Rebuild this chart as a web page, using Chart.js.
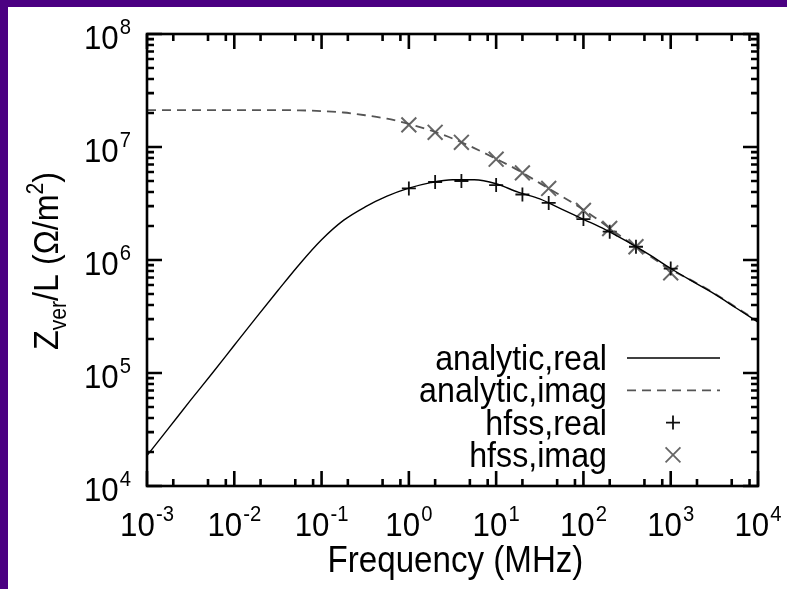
<!DOCTYPE html>
<html lang="en">
<head>
<meta charset="UTF-8">
<title>Zver/L vs frequency</title>
<script src="https://cdn.jsdelivr.net/npm/chart.js"></script>
<style>
  body { margin: 0; background: #fff; }
  #frame { width: 787px; height: 589px; box-sizing: border-box; border-left: 8px solid #4b0082; border-top: 7px solid #4b0082; }
  canvas { display: block; }
</style>
</head>
<body>
<div id="frame"><canvas id="zChart" width="779" height="582"></canvas></div>
<script>
// analytic curves (MHz, Ohm/m^2), every quarter decade
const freqAnalytic = [0.001, 0.00178, 0.00316, 0.00562, 0.01, 0.0178, 0.0316, 0.0562, 0.1, 0.178, 0.316, 0.562,
    1, 1.78, 3.16, 5.62, 10, 17.8, 31.6, 56.2, 100, 178, 316, 562, 1000, 1780, 3160, 5620, 10000];
const realAnalytic = [1.86e4, 3.27e4, 5.75e4, 1.0e5, 1.76e5, 3.09e5, 5.37e5, 9.23e5, 1.51e6, 2.24e6, 2.95e6, 3.67e6,
    4.32e6, 4.84e6, 5.13e6, 5.13e6, 4.73e6, 3.98e6, 3.47e6, 2.82e6, 2.29e6, 1.86e6, 1.46e6, 1.12e6, 8.41e5, 6.46e5, 5.01e5, 3.76e5, 2.82e5];
const imagAnalytic = [2.12e7, 2.12e7, 2.12e7, 2.12e7, 2.12e7, 2.12e7, 2.12e7, 2.11e7, 2.08e7, 2.02e7, 1.91e7, 1.78e7,
    1.60e7, 1.40e7, 1.19e7, 9.77e6, 7.85e6, 6.24e6, 4.79e6, 3.67e6, 2.79e6, 2.04e6, 1.48e6, 1.10e6, 8.22e5, 6.53e5, 5.07e5, 3.80e5, 2.88e5];

// hfss simulation points
const freqHfss = [1, 2, 4, 10, 20, 40, 100, 200, 400, 1000];
const realHfss = [4.3e6, 4.9e6, 5.0e6, 4.6e6, 3.8e6, 3.2e6, 2.3e6, 1.78e6, 1.31e6, 8.4e5];
const imagHfss = [1.57e7, 1.35e7, 1.1e7, 7.8e6, 5.9e6, 4.3e6, 2.75e6, 1.9e6, 1.31e6, 7.7e5];

// axis decades (exponents) and minor tick multipliers
const xDecades = [-3, -2, -1, 0, 1, 2, 3, 4];
const yDecades = [4, 5, 6, 7, 8];
const xMinor = [2, 5, 8];
const yMinor = [2, 3, 4, 5, 6, 7, 8, 9];

const FONT = '"Liberation Sans", Arial, sans-serif';
const SX = 0.92; // text in the original looks a little narrow

const pts = (xs, ys) => xs.map((x, i) => ({ x: x, y: ys[i] }));

function textW(ctx, str, size) {
    ctx.font = size + 'px ' + FONT;
    return ctx.measureText(str).width * SX;
}

function putText(ctx, str, x, y, size, align) {
    ctx.save();
    ctx.translate(x, y);
    ctx.scale(SX, 1);
    ctx.font = size + 'px ' + FONT;
    ctx.textAlign = align || 'left';
    ctx.fillText(str, 0, 0);
    ctx.restore();
}

// "10" with a raised exponent
function drawPow(ctx, exp, x, y, align) {
    const wb = textW(ctx, '10', 34), ws = textW(ctx, String(exp), 22);
    const w = wb + ws + 1;
    const x0 = align === 'right' ? x - w : x - w / 2;
    putText(ctx, '10', x0, y, 34);
    putText(ctx, String(exp), x0 + wb + 1, y - 15, 22);
}

const gnuplotAxes = {
    id: 'gnuplotAxes',
    afterDatasetsDraw(chart) {
        const ctx = chart.ctx;
        const a = chart.chartArea;
        const xs = chart.scales.x, ys = chart.scales.y;
        ctx.save();
        ctx.strokeStyle = '#000';
        ctx.fillStyle = '#000';
        ctx.textBaseline = 'alphabetic';
        ctx.lineWidth = 2.6;
        ctx.strokeRect(a.left, a.top, a.right - a.left, a.bottom - a.top);

        ctx.beginPath();
        // y ticks (left and right, pointing in)
        yDecades.forEach(d => {
            const py = ys.getPixelForValue(Math.pow(10, d));
            ctx.moveTo(a.left, py); ctx.lineTo(a.left + 15, py);
            ctx.moveTo(a.right, py); ctx.lineTo(a.right - 15, py);
            if (d < 8) yMinor.forEach(k => {
                const my = ys.getPixelForValue(k * Math.pow(10, d));
                ctx.moveTo(a.left, my); ctx.lineTo(a.left + 7, my);
                ctx.moveTo(a.right, my); ctx.lineTo(a.right - 7, my);
            });
        });
        // x ticks (bottom and top)
        xDecades.forEach(d => {
            const px = xs.getPixelForValue(Math.pow(10, d));
            ctx.moveTo(px, a.bottom); ctx.lineTo(px, a.bottom - 15);
            ctx.moveTo(px, a.top); ctx.lineTo(px, a.top + 15);
            if (d < 4) xMinor.forEach(k => {
                const mx = xs.getPixelForValue(k * Math.pow(10, d));
                ctx.moveTo(mx, a.bottom); ctx.lineTo(mx, a.bottom - 7);
                ctx.moveTo(mx, a.top); ctx.lineTo(mx, a.top + 7);
            });
        });
        ctx.stroke();

        // tick labels
        yDecades.forEach(d => {
            drawPow(ctx, d, a.left - 16, ys.getPixelForValue(Math.pow(10, d)) + 15, 'right');
        });
        xDecades.forEach(d => {
            drawPow(ctx, d, xs.getPixelForValue(Math.pow(10, d)), a.bottom + 50, 'center');
        });

        // x title
        putText(ctx, 'Frequency (MHz)', (a.left + a.right) / 2 + 3, a.bottom + 86, 36, 'center');

        // y title with sub/superscript, rotated
        ctx.save();
        ctx.translate(a.left - 89, (a.top + a.bottom) / 2 + 1);
        ctx.rotate(-Math.PI / 2);
        const parts = [['Z', 35, 0], ['ver', 23, 8], ['/L (\u03a9/m', 35, 0], ['2', 23, -15], [')', 35, 0]];
        let total = 0;
        parts.forEach(p => { total += textW(ctx, p[0], p[1]); });
        let cx = -total / 2;
        parts.forEach(p => {
            putText(ctx, p[0], cx, p[2], p[1]);
            cx += textW(ctx, p[0], p[1]);
        });
        ctx.restore();

        // key inside the plot
        const textRight = a.left + 460;
        chart.data.datasets.forEach((ds, i) => {
            const yy = a.top + 324 + i * 32.3;
            ctx.fillStyle = '#000';
            putText(ctx, ds.label, textRight, yy + 12, 35, 'right');
            ctx.strokeStyle = ds.borderColor;
            if (ds.pointRadius === 0) {
                ctx.lineWidth = ds.borderWidth;
                ctx.setLineDash(ds.borderDash || []);
                ctx.beginPath();
                ctx.moveTo(textRight + 20, yy);
                ctx.lineTo(textRight + 113, yy);
                ctx.stroke();
                ctx.setLineDash([]);
            } else {
                Chart.helpers.drawPoint(ctx, {
                    pointStyle: ds.pointStyle, rotation: 0,
                    radius: ds.pointRadius, borderWidth: ds.pointBorderWidth
                }, textRight + 66, yy);
            }
        });
        ctx.restore();
    }
};

new Chart(document.getElementById('zChart'), {
    type: 'line',
    data: {
        datasets: [
            { label: 'analytic,real', data: pts(freqAnalytic, realAnalytic), borderColor: '#000', borderWidth: 1.4, pointRadius: 0, cubicInterpolationMode: 'monotone', fill: false },
            { label: 'analytic,imag', data: pts(freqAnalytic, imagAnalytic), borderColor: '#555', borderWidth: 1.8, borderDash: [9, 6], pointRadius: 0, cubicInterpolationMode: 'monotone', fill: false },
            { label: 'hfss,real', data: pts(freqHfss, realHfss), showLine: false, pointStyle: 'cross', pointRadius: 7, pointBorderWidth: 1.8, borderColor: '#111', pointBorderColor: '#111' },
            { label: 'hfss,imag', data: pts(freqHfss, imagHfss), showLine: false, pointStyle: 'crossRot', pointRadius: 10.5, pointBorderWidth: 2, borderColor: '#666', pointBorderColor: '#666' }
        ]
    },
    options: {
        responsive: false,
        animation: false,
        devicePixelRatio: 1,
        layout: { padding: { left: 139, top: 27, right: 29, bottom: 103 } },
        plugins: { legend: { display: false }, tooltip: { enabled: false } },
        scales: {
            x: {
                type: 'logarithmic', min: 1e-3, max: 1e4,
                ticks: { display: false }, grid: { display: false }, border: { display: false },
                afterFit: s => { s.height = 0; }
            },
            y: {
                type: 'logarithmic', min: 1e4, max: 1e8,
                ticks: { display: false }, grid: { display: false }, border: { display: false },
                afterFit: s => { s.width = 0; }
            }
        }
    },
    plugins: [gnuplotAxes]
});
</script>
</body>
</html>
